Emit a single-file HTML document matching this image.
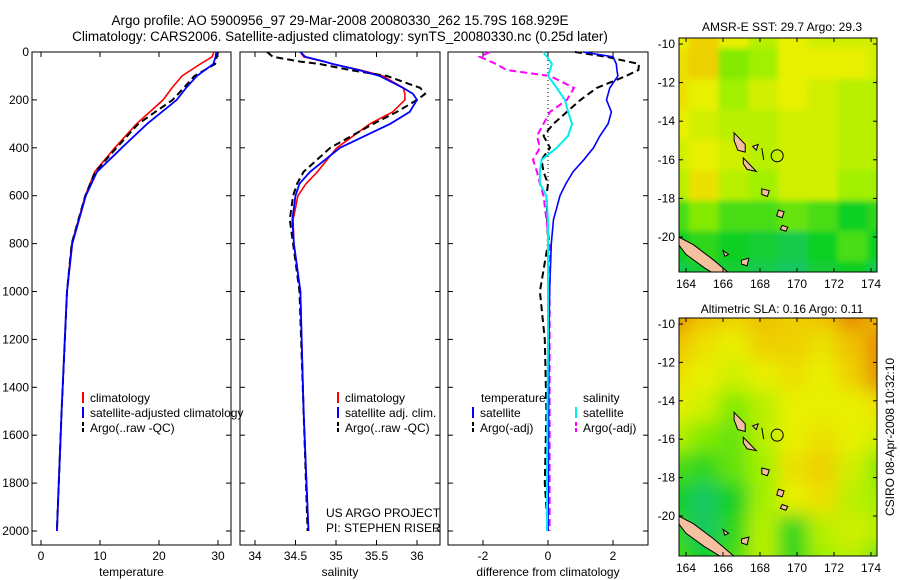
<!DOCTYPE html>
<html><head><meta charset="utf-8"><style>
body{margin:0;background:#fff;width:900px;height:580px;overflow:hidden}
svg{display:block;font-family:"Liberation Sans",sans-serif}
</style></head><body>
<svg id="c" width="900" height="580">
<defs>
<filter id="blur1"><feGaussianBlur stdDeviation="3"/></filter>
<filter id="blur2"><feGaussianBlur stdDeviation="9"/></filter>
<clipPath id="clip1"><rect x="679" y="38" width="198" height="234"/></clipPath>
<clipPath id="clip2"><rect x="679" y="318" width="198" height="238"/></clipPath>
</defs>
<text x="340" y="25" font-size="13.5" text-anchor="middle">Argo profile: AO 5900956_97 29-Mar-2008 20080330_262 15.79S 168.929E</text>
<text x="340" y="41" font-size="13.5" text-anchor="middle">Climatology: CARS2006. Satellite-adjusted climatology: synTS_20080330.nc (0.25d later)</text>
<text x="782" y="31" font-size="12" text-anchor="middle">AMSR-E SST: 29.7 Argo: 29.3</text>
<text x="782" y="313" font-size="12" text-anchor="middle">Altimetric SLA: 0.16 Argo: 0.11</text>
<text transform="translate(894,437) rotate(-90)" font-size="12" text-anchor="middle">CSIRO 08-Apr-2008 10:32:10</text>
<g id="g"></g>
</svg>
<script>
// ---- profile data ----
const depthT=[0,20,50,100,150,200,300,400,500,600,800,1000,1500,2000];
const tempClim=[29.3,29.0,27.0,23.9,22.2,20.7,16.2,12.5,9.1,7.5,5.2,4.4,3.5,2.7];
const tempSat=[29.7,29.6,29.2,26.4,24.6,23.0,18.0,13.7,9.5,7.6,5.3,4.4,3.5,2.7];
const tempArgo=[30.0,29.8,29.5,26.0,24.2,22.3,16.5,12.8,9.2,7.5,5.2,4.4,3.5,2.7];
const depthS=[0,20,40,50,75,100,150,175,200,250,300,400,500,550,600,700,800,1000,1500,2000];
const salClim=[34.56,34.6,34.85,34.96,35.3,35.58,35.83,35.85,35.85,35.7,35.42,35.01,34.77,34.63,34.53,34.47,34.48,34.56,34.6,34.66];
const salSat=[34.56,34.62,34.86,34.96,35.28,35.54,35.83,35.95,36.0,35.91,35.67,35.05,34.68,34.55,34.5,34.46,34.48,34.56,34.6,34.66];
const salArgo=[34.15,34.22,34.56,34.8,35.17,35.63,36.04,36.1,36.0,35.75,35.46,34.93,34.6,34.52,34.47,34.43,34.47,34.55,34.6,34.65];
const depthD=[0,20,50,75,100,150,200,250,300,350,400,450,500,550,600,700,800,1000,1200,1500,1800,2000];
const dTsat=[1.08,2.0,2.1,2.12,2.15,1.9,1.8,1.95,1.85,1.6,1.4,1.1,0.77,0.55,0.37,0.17,0.1,0.05,0.03,0.02,0.01,0];
const dTargo=[0.83,1.8,2.8,2.78,2.4,1.5,1.0,0.58,0.17,-0.14,0.06,-0.2,-0.14,0,-0.05,-0.02,0,-0.25,-0.1,-0.05,-0.1,0];
const dSsat=[-0.15,-0.03,0.12,0.06,0,0.27,0.52,0.62,0.74,0.62,0.27,-0.2,-0.25,-0.25,-0.05,0,0,0,0,-0.02,-0.03,-0.03];
const dSargo=[-1.78,-2.1,-1.6,-1.27,0.06,0.8,0.58,0.06,-0.14,-0.34,-0.25,-0.46,-0.34,-0.25,-0.14,-0.05,0.05,0.05,0.05,0.05,0.05,0.05];
const depthTicks=[0,200,400,600,800,1000,1200,1400,1600,1800,2000];
const tempTicks=[0,10,20,30];
const salTicks=[34,34.5,35,35.5,36];
const diffTicks=[-2,0,2];
// ---- map data (rows north->south, cols west->east) ----
const sstGrid=[
[.7,.8,.7,.6,.7,.65,.65,.65],
[.75,.8,.5,.55,.7,.7,.7,.65],
[.75,.7,.55,.65,.7,.65,.6,.6],
[.7,.65,.6,.6,.65,.65,.6,.6],
[.65,.7,.65,.6,.65,.65,.6,.6],
[.6,.75,.6,.55,.65,.65,.55,.55],
[.4,.5,.4,.4,.45,.4,.3,.35],
[.3,.35,.3,.25,.2,.3,.4,.3],
[.2,.25,.25,.2,.15,.25,.3,.2]];
const slaGrid=[
[.95,.85,.8,.85,.8,.85,.95,.85],
[.85,.75,.7,.8,.8,.75,.85,.95],
[.75,.7,.65,.7,.75,.7,.8,.95],
[.7,.65,.5,.6,.7,.7,.7,.75],
[.6,.5,.45,.6,.7,.75,.7,.65],
[.4,.35,.45,.55,.75,.8,.65,.5],
[.3,.15,.3,.55,.7,.75,.6,.55],
[.35,.15,.35,.6,.35,.6,.65,.6],
[.4,.3,.4,.6,.35,.55,.6,.45]];
const lonTicks=[164,166,168,170,172,174];
const latTicks=[-10,-12,-14,-16,-18,-20];
const islands=[
[[163.6,-20.0],[164.4,-20.4],[165.5,-21.2],[166.6,-22.1],[166.2,-22.3],[165.0,-21.6],[164.0,-20.9],[163.6,-20.4]],
[[166.6,-14.6],[167.2,-15.2],[167.2,-15.6],[166.8,-15.5],[166.6,-15.0]],
[[167.1,-15.9],[167.5,-16.3],[167.8,-16.6],[167.3,-16.5],[167.1,-16.2]],
[[168.1,-17.5],[168.5,-17.6],[168.4,-17.9],[168.1,-17.8]],
[[169.0,-18.6],[169.3,-18.7],[169.2,-19.0],[168.9,-18.9]],
[[169.2,-19.4],[169.5,-19.5],[169.4,-19.7],[169.1,-19.6]],
[[167.6,-15.3],[167.9,-15.2],[167.8,-15.5]],
[[168.1,-15.4],[168.2,-16.0],[168.1,-15.4]],
[[167.0,-21.2],[167.4,-21.1],[167.3,-21.5],[167.0,-21.4]],
[[166.0,-20.7],[166.3,-20.9],[166.1,-21.0]]];
const argoPos=[168.929,-15.79];

const NS='http://www.w3.org/2000/svg';
const G=document.getElementById('g');
function mk(t,a,p){const e=document.createElementNS(NS,t);for(const k in a)e.setAttribute(k,a[k]);(p||G).appendChild(e);return e;}
const y0=52,ys=(531-52)/2000;
function yD(d){return y0+d*ys;}
const panels=[
 {x0:32,x1:231,sx:v=>41+v*(218-41)/30,ticks:tempTicks,label:'temperature',name:'temperature-panel'},
 {x0:240,x1:440,sx:v=>255+(v-34)*(417-255)/2,ticks:salTicks,label:'salinity',name:'salinity-panel'},
 {x0:448,x1:648,sx:v=>548+v*32.5,ticks:diffTicks,label:'difference from climatology',name:'difference-panel'}];
panels.forEach((p,i)=>{
  const grp=mk('g',{});
  
  
  mk('rect',{x:p.x0,y:52,width:p.x1-p.x0,height:493,fill:'none',stroke:'#000','stroke-width':1},grp);
  depthTicks.forEach(d=>{
    mk('line',{x1:p.x0,x2:p.x0+5,y1:yD(d),y2:yD(d),stroke:'#000'},grp);
    mk('line',{x1:p.x1-5,x2:p.x1,y1:yD(d),y2:yD(d),stroke:'#000'},grp);
    if(i===0){const t=mk('text',{x:p.x0-3,y:yD(d)+4,'font-size':12,'text-anchor':'end'},grp);t.textContent=d;
      
      }
  });
  p.ticks.forEach(v=>{
    const x=p.sx(v);
    mk('line',{x1:x,x2:x,y1:545,y2:540,stroke:'#000'},grp);
    mk('line',{x1:x,x2:x,y1:52,y2:57,stroke:'#000'},grp);
    const t=mk('text',{x:x,y:560,'font-size':12,'text-anchor':'middle'},grp);t.textContent=v;
    
    
  });
  const t=mk('text',{x:(p.x0+p.x1)/2,y:576,'font-size':12,'text-anchor':'middle'},grp);t.textContent=p.label;
  
  
});
function line(p,depths,vals,color,dash,w,name){
  const pts=depths.map((d,i)=>p.sx(vals[i]).toFixed(1)+','+yD(d).toFixed(1)).join(' ');
  const e=mk('polyline',{points:pts,fill:'none',stroke:color,'stroke-width':w,'stroke-dasharray':dash||'none'});
  
  
}
mk('line',{x1:548,x2:548,y1:52,y2:190,stroke:'#000','stroke-dasharray':'1,3'});
line(panels[0],depthT,tempClim,'#f00',null,1.6,'temp-climatology-line');
line(panels[0],depthT,tempArgo,'#000','7,4',2,'temp-argo-line');
line(panels[0],depthT,tempSat,'#00f',null,1.8,'temp-satellite-line');
line(panels[1],depthS,salClim,'#f00',null,1.6,'sal-climatology-line');
line(panels[1],depthS,salArgo,'#000','7,4',2,'sal-argo-line');
line(panels[1],depthS,salSat,'#00f',null,1.8,'sal-satellite-line');
line(panels[2],depthD,dTargo,'#000','7,4',2,'temp-diff-argo-line');
line(panels[2],depthD,dSargo,'#f0f','7,4',2,'sal-diff-argo-line');
line(panels[2],depthD,dTsat,'#00f',null,1.6,'temp-diff-satellite-line');
line(panels[2],depthD,dSsat,'#0ee',null,2,'sal-diff-satellite-line');
function leg(x,y,color,dash,txt){
  mk('line',{x1:x,x2:x,y1:y-10,y2:y+1,stroke:color,'stroke-width':2,'stroke-dasharray':dash||'none'});
  const t=mk('text',{x:x+7,y:y,'font-size':12},G);t.textContent=txt;
  
  
}
leg(83,402,'#f00',null,'climatology');
leg(83,417,'#00f',null,'satellite-adjusted climatology');
leg(83,432,'#000','4,2','Argo(..raw -QC)');
leg(338,402,'#f00',null,'climatology');
leg(338,417,'#00f',null,'satellite adj. clim.');
leg(338,432,'#000','4,2','Argo(..raw -QC)');
{const t=mk('text',{x:481,y:402,'font-size':12});t.textContent='temperature';}
{const t=mk('text',{x:583,y:402,'font-size':12});t.textContent='salinity';}
leg(473,417,'#00f',null,'satellite');
leg(473,432,'#000','4,2','Argo(-adj)');
leg(576,417,'#0ee',null,'satellite');
leg(576,432,'#f0f','4,2','Argo(-adj)');
{const t=mk('text',{x:326,y:517,'font-size':12});t.textContent='US ARGO PROJECT';}
{const t=mk('text',{x:326,y:532,'font-size':12});t.textContent='PI: STEPHEN RISER';}
// ---- maps ----
const stops=[[0,[32,192,160]],[0.3,[16,208,32]],[0.55,[160,240,0]],[0.7,[232,240,0]],[0.85,[240,192,0]],[1,[224,112,0]]];
function cmap(v){for(let i=1;i<stops.length;i++){if(v<=stops[i][0]){const a=stops[i-1],b=stops[i],t=(v-a[0])/(b[0]-a[0]);return 'rgb('+a[1].map((c,k)=>Math.round(c+(b[1][k]-c)*t)).join(',')+')';}}return 'rgb(224,112,0)';}
function drawMap(grid,top,bot,lat10,lat20,clip,blur,name){
  const L=679,R=877;
  const lx=lon=>686+(lon-164)*(871-686)/10;
  const ly=lat=>lat10+(lat+10)*(lat20-lat10)/(-10);
  const mg=mk('g',{'clip-path':'url(#'+clip+')'});
  
  
  mk('rect',{x:L,y:top,width:R-L,height:bot-top,fill:cmap(grid[4][4])},mg);
  const hg=mk('g',{filter:'url(#'+blur+')'},mg);
  const nr=grid.length,nc=grid[0].length,cw=(R-L+40)/nc,ch=(bot-top+40)/nr;
  grid.forEach((row,r)=>row.forEach((v,c)=>{
    const e=mk('rect',{x:L-20+c*cw,y:top-20+r*ch,width:cw+0.5,height:ch+0.5,fill:cmap(v)},hg);
    
    
  }));
  islands.forEach(poly=>{
    const e=mk('polygon',{points:poly.map(p=>lx(p[0]).toFixed(1)+','+ly(p[1]).toFixed(1)).join(' '),fill:'#f5c0a0',stroke:'#000','stroke-width':1},mg);
    
    
  });
  const c=mk('circle',{cx:lx(argoPos[0]),cy:ly(argoPos[1]),r:6,fill:'none',stroke:'#000'},mg);
  
  
  mk('rect',{x:L,y:top,width:R-L,height:bot-top,fill:'none',stroke:'#000'});
  lonTicks.forEach(lon=>{const x=lx(lon);
    mk('line',{x1:x,x2:x,y1:bot,y2:bot-4,stroke:'#000'});mk('line',{x1:x,x2:x,y1:top,y2:top+4,stroke:'#000'});
    const t=mk('text',{x:x,y:bot+16,'font-size':12,'text-anchor':'middle'});t.textContent=lon;
    
    });
  latTicks.forEach(lat=>{const y=ly(lat);
    mk('line',{x1:L,x2:L+4,y1:y,y2:y,stroke:'#000'});mk('line',{x1:R,x2:R-4,y1:y,y2:y,stroke:'#000'});
    const t=mk('text',{x:L-4,y:y+4,'font-size':12,'text-anchor':'end'});t.textContent=lat;
    
    });
}
drawMap(sstGrid,38,272,44,237,'clip1','blur1','sst-map');
drawMap(slaGrid,318,556,324,516,'clip2','blur2','sla-map');
</script>
</body></html>
